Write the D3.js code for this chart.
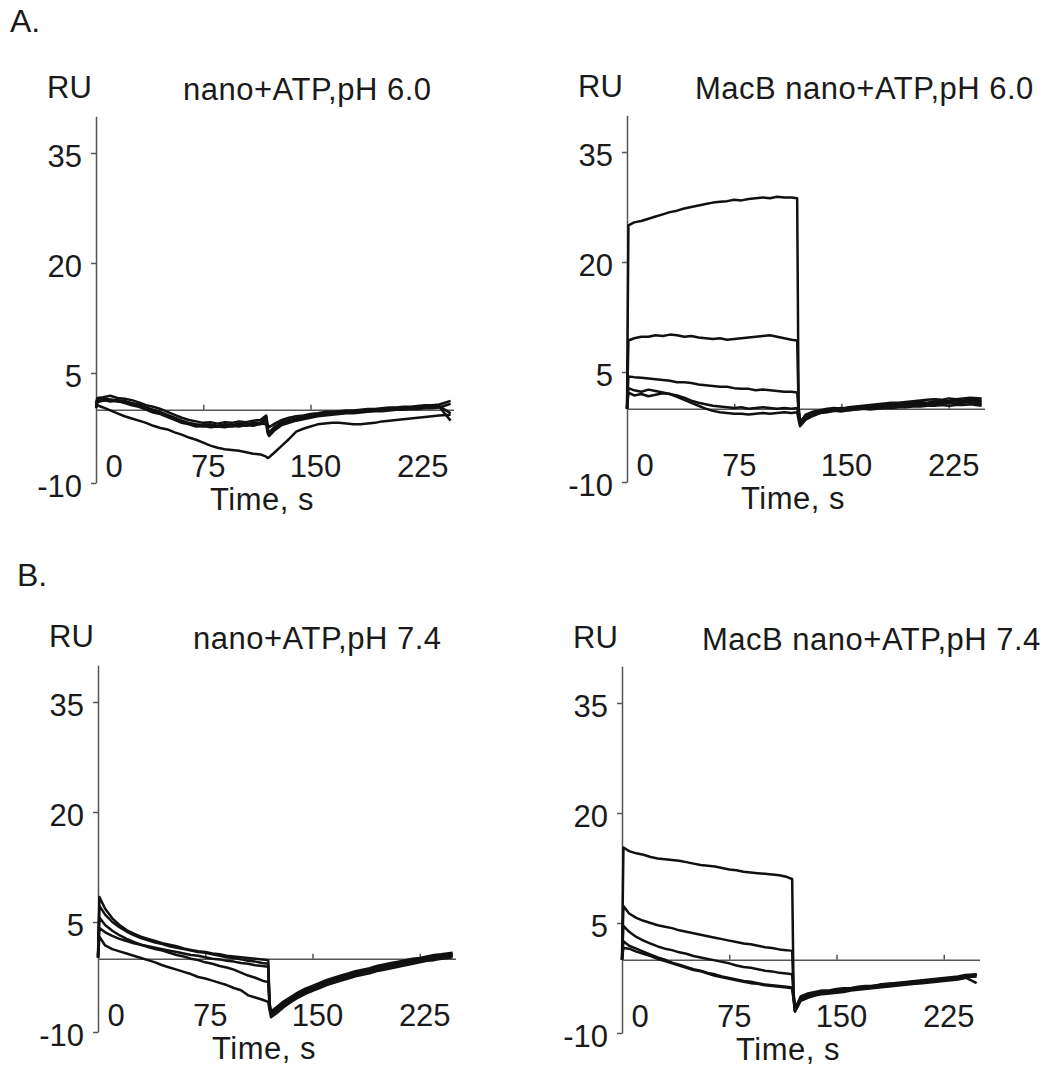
<!DOCTYPE html>
<html>
<head>
<meta charset="utf-8">
<script src="https://cdn.jsdelivr.net/npm/d3@7"></script>
<style>
  body { margin: 0; background: #fff; }
  text { font-family: "Liberation Sans", Arial, sans-serif; fill: #1a1a1a; }
</style>
</head>
<body>
<div id="chart"></div>
<script>
// sample times (s) shared by every sensorgram
var times = [0,1,5,10,15,20,25,30,35,40,45,50,55,60,65,70,75,80,85,90,95,100,105,110,115,
  119,120,121,
  125,130,135,140,145,150,155,160,165,170,175,180,185,190,195,200,205,210,215,220,225,230,235,240,248];

var yTicks = [-10, 5, 20, 35];
var xTicks = [0, 75, 150, 225];

// A. nano+ATP, pH 6.0
var nano60 = [
  [0.9,1.6, 1.7,1.9,1.6,1.5,1.3,1.0,0.6,0.4,0.1,-0.3,-0.7,-1.1,-1.4,-1.6,-1.8,-1.7,-1.9,-1.7,-1.8,-1.6,-1.7,-1.5,-1.4, -0.8,-2.0,-2.4, -1.9,-1.4,-1.1,-0.9,-0.8,-0.6,-0.5,-0.3,-0.3,-0.2,-0.1,-0.1,0.0,0.1,0.1,0.2,0.3,0.3,0.4,0.4,0.5,0.6,0.6,0.7,1.2],
  [0.6,1.3, 1.5,1.4,1.3,1.2,0.9,0.7,0.3,0.0,-0.3,-0.7,-1.1,-1.5,-1.8,-2.0,-2.1,-2.0,-2.2,-2.0,-2.1,-1.9,-2.0,-1.8,-1.8, -1.0,-2.6,-3.1, -2.3,-1.7,-1.4,-1.2,-1.0,-0.8,-0.7,-0.5,-0.4,-0.4,-0.3,-0.2,-0.2,-0.1,0.0,0.0,0.1,0.2,0.2,0.3,0.3,0.4,0.5,0.5,-0.5],
  [0.4,1.1, 1.2,1.3,1.1,1.0,0.8,0.5,0.1,-0.2,-0.5,-0.9,-1.3,-1.6,-1.9,-2.2,-2.3,-2.2,-2.3,-2.2,-2.3,-2.1,-2.2,-2.0,-2.0, -1.4,-2.8,-3.4, -2.6,-1.9,-1.6,-1.3,-1.1,-0.9,-0.8,-0.6,-0.5,-0.5,-0.4,-0.3,-0.3,-0.2,-0.1,0.0,0.0,0.1,0.1,0.2,0.2,0.3,0.3,0.4,-1.5],
  [0.2,1.0, 1.3,1.1,1.2,0.9,0.6,0.4,0.0,-0.4,-0.6,-1.0,-1.4,-1.8,-2.0,-2.3,-2.2,-2.4,-2.3,-2.4,-2.2,-2.3,-2.1,-2.2,-1.9, -2.0,-3.2,-3.6, -2.8,-2.1,-1.8,-1.5,-1.3,-1.1,-0.9,-0.8,-0.7,-0.6,-0.5,-0.5,-0.4,-0.3,-0.2,-0.2,-0.1,0.0,0.0,0.1,0.1,0.2,0.2,0.3,0.8],
  [0.3,0.6, 0.3,-0.1,-0.5,-0.9,-1.2,-1.5,-1.8,-2.2,-2.5,-2.7,-3.1,-3.4,-3.8,-4.1,-4.5,-4.9,-5.2,-5.4,-5.5,-5.6,-5.8,-6.0,-6.1, -6.4,-6.6,-6.5, -5.8,-4.9,-4.0,-3.0,-2.6,-2.3,-2.0,-1.9,-1.8,-1.8,-1.9,-2.0,-2.0,-1.9,-1.8,-1.6,-1.5,-1.4,-1.3,-1.2,-1.1,-1.0,-0.9,-0.8,-0.7]
];

// A. MacB nano+ATP, pH 6.0
var macb60 = [
  [0.0,25.0, 25.4,25.6,25.9,26.2,26.5,26.8,27.0,27.3,27.5,27.7,27.9,28.1,28.2,28.3,28.5,28.4,28.6,28.7,28.8,28.7,28.9,28.8,28.8, 28.7,0.2,-2.0, -0.8,-0.4,-0.2,0.0,0.1,0.0,0.2,0.3,0.4,0.5,0.6,0.7,0.8,0.8,0.9,1.0,1.1,1.2,1.3,1.2,1.4,1.3,1.4,1.5,1.4],
  [0.0,9.3, 9.6,9.8,9.8,10.0,9.9,10.1,10.0,9.8,9.9,9.7,9.6,9.5,9.6,9.4,9.5,9.6,9.7,9.8,9.9,10.0,9.8,9.6,9.4, 9.3,0.0,-1.8, -0.9,-0.5,-0.3,-0.2,0.0,0.1,0.0,0.2,0.3,0.2,0.4,0.5,0.5,0.6,0.7,0.8,0.9,0.8,1.0,1.1,1.0,1.2,1.1,1.2,1.1],
  [0.0,4.4, 4.3,4.2,4.1,4.0,3.9,3.8,3.6,3.6,3.5,3.3,3.2,3.1,3.0,3.0,2.8,2.7,2.7,2.5,2.6,2.5,2.4,2.3,2.3, 2.2,-0.3,-2.2, -1.2,-0.8,-0.5,-0.4,-0.2,-0.1,0.0,0.0,0.1,0.2,0.3,0.3,0.4,0.5,0.5,0.6,0.7,0.6,0.8,0.9,0.8,1.0,0.9,1.0,0.9],
  [0.0,2.8, 2.5,2.3,2.6,2.4,2.2,2.0,1.6,1.2,0.8,0.4,0.0,-0.3,-0.5,-0.6,-0.7,-0.7,-0.8,-0.7,-0.6,-0.7,-0.6,-0.5,-0.6, -0.5,-1.5,-2.4, -1.5,-1.0,-0.6,-0.5,-0.3,-0.4,-0.2,-0.1,0.0,0.0,0.1,0.2,0.1,0.3,0.4,0.4,0.5,0.6,0.7,0.6,0.8,0.7,0.8,0.9,0.6],
  [0.0,2.2, 1.8,2.0,1.7,1.9,2.1,2.0,1.8,1.5,1.1,0.8,0.6,0.4,0.3,0.2,0.1,0.2,0.0,0.1,0.2,0.1,0.0,0.1,0.0, 0.1,-1.0,-2.0, -1.3,-0.8,-0.6,-0.4,-0.3,-0.2,-0.2,-0.1,0.0,-0.1,0.0,0.1,0.1,0.2,0.2,0.3,0.3,0.4,0.4,0.5,0.4,0.5,0.5,0.6,0.4]
];

// B. nano+ATP, pH 7.4
var nano74 = [
  [0.5,8.4, 6.8,5.5,4.6,3.9,3.4,3.0,2.7,2.4,2.1,1.9,1.7,1.4,1.2,1.0,0.9,0.7,0.6,0.4,0.3,0.2,0.1,0.0,-0.1, -0.2,-6.0,-7.2, -6.6,-5.8,-5.2,-4.6,-4.1,-3.7,-3.3,-2.9,-2.6,-2.3,-2.0,-1.7,-1.5,-1.3,-1.0,-0.8,-0.6,-0.4,-0.2,0.0,0.1,0.3,0.5,0.6,0.8],
  [0.3,7.2, 6.0,5.0,4.3,3.7,3.2,2.8,2.5,2.2,2.0,1.7,1.5,1.3,1.1,0.9,0.8,0.6,0.4,0.2,0.1,-0.1,-0.3,-0.4,-0.6, -0.7,-6.3,-7.4, -6.8,-6.0,-5.4,-4.8,-4.3,-3.9,-3.5,-3.1,-2.8,-2.5,-2.2,-1.9,-1.7,-1.5,-1.2,-1.0,-0.8,-0.6,-0.4,-0.2,-0.1,0.1,0.3,0.4,0.6],
  [0.1,4.2, 3.6,3.1,2.7,2.4,2.1,1.9,1.7,1.5,1.3,1.1,0.9,0.7,0.5,0.4,0.2,0.0,-0.1,-0.3,-0.4,-0.6,-0.7,-0.9,-1.0, -1.1,-6.4,-7.5, -7.0,-6.3,-5.6,-5.0,-4.6,-4.1,-3.7,-3.3,-3.0,-2.7,-2.4,-2.2,-1.9,-1.7,-1.4,-1.2,-1.0,-0.8,-0.6,-0.4,-0.3,-0.1,0.1,0.3,0.5],
  [0.2,5.6, 4.6,3.8,3.2,2.7,2.3,1.9,1.6,1.3,1.1,0.8,0.5,0.3,0.0,-0.2,-0.5,-0.7,-1.0,-1.2,-1.5,-1.9,-2.3,-2.6,-3.0, -3.2,-6.8,-7.6, -7.0,-6.2,-5.6,-5.0,-4.5,-4.1,-3.7,-3.3,-3.0,-2.7,-2.4,-2.1,-1.9,-1.6,-1.4,-1.2,-1.0,-0.8,-0.6,-0.4,-0.2,-0.1,0.1,0.2,0.4],
  [0.1,3.0, 1.8,1.3,1.0,0.7,0.4,0.1,-0.2,-0.5,-0.9,-1.2,-1.5,-1.8,-2.1,-2.5,-2.7,-3.0,-3.3,-3.6,-4.0,-4.3,-5.0,-5.3,-5.6, -5.9,-7.0,-8.0, -7.4,-6.6,-5.9,-5.3,-4.8,-4.4,-4.0,-3.6,-3.3,-3.0,-2.7,-2.4,-2.2,-2.0,-1.7,-1.5,-1.3,-1.1,-0.9,-0.7,-0.5,-0.3,-0.2,0.0,0.2]
];

// B. MacB nano+ATP, pH 7.4
var macb74 = [
  [0.0,15.3, 14.8,14.5,14.3,14.0,13.8,13.7,13.6,13.5,13.3,13.1,12.9,12.8,12.7,12.5,12.3,12.2,12.0,11.9,11.8,11.7,11.6,11.5,11.3, 11.0,-4.5,-6.8, -5.0,-4.6,-4.4,-4.2,-4.2,-4.0,-3.9,-3.9,-3.7,-3.6,-3.6,-3.4,-3.3,-3.2,-3.1,-3.0,-2.9,-2.8,-2.7,-2.6,-2.5,-2.4,-2.3,-2.1,-2.0],
  [0.0,7.3, 6.3,5.7,5.3,5.0,4.7,4.5,4.3,4.0,3.8,3.6,3.4,3.2,3.0,2.8,2.6,2.4,2.2,2.1,1.9,1.7,1.6,1.4,1.3, 1.2,-4.8,-6.6, -5.2,-4.8,-4.5,-4.4,-4.3,-4.1,-4.0,-3.9,-3.8,-3.7,-3.6,-3.5,-3.4,-3.3,-3.2,-3.1,-3.0,-2.9,-2.8,-2.7,-2.6,-2.5,-2.4,-2.2,-2.1],
  [0.0,4.6, 3.8,3.1,2.6,2.2,1.8,1.5,1.3,1.0,0.8,0.5,0.3,0.1,-0.1,-0.3,-0.5,-0.8,-1.0,-1.1,-1.3,-1.5,-1.6,-1.8,-1.9, -2.0,-5.0,-6.9, -5.3,-4.9,-4.6,-4.4,-4.3,-4.2,-4.1,-4.0,-3.9,-3.8,-3.7,-3.6,-3.5,-3.4,-3.3,-3.2,-3.1,-3.0,-2.9,-2.8,-2.7,-2.6,-2.5,-2.4,-2.3],
  [0.0,2.5, 1.9,1.5,1.1,0.7,0.3,0.0,-0.4,-0.7,-1.0,-1.3,-1.5,-1.8,-2.0,-2.3,-2.5,-2.7,-2.9,-3.0,-3.2,-3.4,-3.5,-3.6,-3.7, -3.8,-5.3,-7.0, -5.5,-5.1,-4.8,-4.6,-4.5,-4.4,-4.3,-4.1,-4.0,-3.9,-3.8,-3.7,-3.6,-3.5,-3.4,-3.3,-3.2,-3.1,-3.0,-2.9,-2.8,-2.7,-2.6,-2.4,-3.2],
  [0.0,1.6, 1.5,1.1,0.8,0.5,0.1,-0.2,-0.5,-0.8,-1.1,-1.4,-1.6,-1.9,-2.2,-2.4,-2.6,-2.8,-3.0,-3.2,-3.3,-3.5,-3.6,-3.7,-3.8, -3.9,-5.5,-7.1, -5.6,-5.2,-4.9,-4.7,-4.6,-4.5,-4.4,-4.2,-4.1,-4.0,-3.9,-3.8,-3.7,-3.6,-3.5,-3.4,-3.3,-3.2,-3.1,-3.0,-2.9,-2.8,-2.7,-2.5,-2.0]
];

// panel placement (axis origin in page pixels)
var panels = [
  {x0: 96,  y35: 153, title: "nano+ATP,pH 6.0",      titleX: 183, data: nano60},
  {x0: 627, y35: 152, title: "MacB nano+ATP,pH 6.0", titleX: 695, data: macb60},
  {x0: 98,  y35: 702, title: "nano+ATP,pH 7.4",      titleX: 193, data: nano74},
  {x0: 622, y35: 703, title: "MacB nano+ATP,pH 7.4", titleX: 702, data: macb74}
];

var width = 1063, height = 1078;
var plotH = 330;          // px between -10 and 35
var plotW = 357.5;        // px for 0..250 s
var fontSize = "31px";

var svg = d3.select("#chart")
  .append("svg")
  .attr("width", width)
  .attr("height", height);

svg.append("rect").attr("width", width).attr("height", height).attr("fill", "#fff");

// section letters
svg.append("text").attr("x", 10).attr("y", 32).style("font-size", "32px").text("A.");
svg.append("text").attr("x", 17).attr("y", 586).style("font-size", "32px").text("B.");

function drawPanel(p) {
  var g = svg.append("g");

  var x = d3.scaleLinear()
    .domain([0, 250])
    .range([p.x0, p.x0 + plotW]);

  var y = d3.scaleLinear()
    .domain([-10, 40])
    .range([p.y35 + plotH, p.y35 - plotH / 45 * 5]);

  // y axis (plain hyphen for negatives, as in the original)
  var yAxis = g.append("g")
    .attr("transform", "translate(" + p.x0 + ",0)")
    .call(d3.axisLeft(y).tickValues(yTicks).tickFormat(d => String(d))
      .tickSize(5).tickSizeOuter(0).tickPadding(9));
  yAxis.select(".domain").attr("stroke", "#555").attr("stroke-width", 1.5);
  yAxis.selectAll(".tick line").attr("stroke", "#555").attr("stroke-width", 1.5);
  yAxis.selectAll(".tick text")
    .attr("dy", "0.45em")
    .style("font-size", fontSize)
    .style("font-family", "'Liberation Sans', Arial, sans-serif")
    .attr("fill", "#1a1a1a");

  // zero line with small upward ticks
  var zeroAxis = g.append("g")
    .attr("transform", "translate(0," + y(0) + ")")
    .call(d3.axisBottom(x).tickValues([75, 150, 225]).tickSize(-5).tickSizeOuter(0).tickFormat(""));
  zeroAxis.select(".domain").attr("stroke", "#555").attr("stroke-width", 1.5);
  zeroAxis.selectAll(".tick line").attr("stroke", "#555").attr("stroke-width", 1.5);

  // x tick labels sit below the plot
  g.selectAll(".xlab")
    .data(xTicks)
    .enter().append("text")
    .attr("class", "xlab")
    .attr("x", d => x(d) + (d === 0 ? 18 : 5))
    .attr("y", y(-10) - 6)
    .attr("text-anchor", "middle")
    .style("font-size", fontSize)
    .text(d => d);

  g.append("text")
    .attr("x", p.x0 + 166)
    .attr("y", y(-10) + 27)
    .attr("text-anchor", "middle")
    .style("font-size", fontSize)
    .style("letter-spacing", "0.5px")
    .text("Time, s");

  g.append("text")
    .attr("x", p.x0 - 49)
    .attr("y", p.y35 - 55)
    .style("font-size", fontSize)
    .text("RU");

  g.append("text")
    .attr("x", p.titleX)
    .attr("y", p.y35 - 53)
    .style("font-size", fontSize)
    .style("letter-spacing", "0.5px")
    .text(p.title);

  // sensorgram curves
  var line = d3.line()
    .x(d => x(d[0]))
    .y(d => y(d[1]));

  g.selectAll(".curve")
    .data(p.data)
    .enter().append("path")
    .attr("class", "curve")
    .attr("d", vals => line(vals.map((v, i) => [times[i], v]).filter(d => d[0] !== undefined)))
    .attr("fill", "none")
    .attr("stroke", "#111")
    .attr("stroke-width", 2.5)
    .attr("stroke-linejoin", "round");
}

panels.forEach(drawPanel);
</script>
</body>
</html>
